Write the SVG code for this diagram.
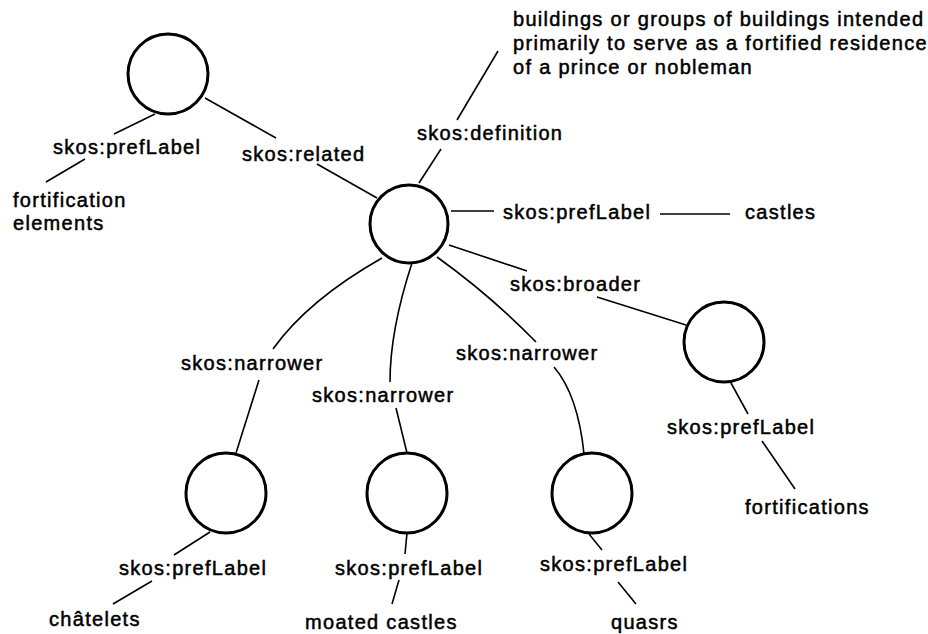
<svg xmlns="http://www.w3.org/2000/svg" width="928" height="634" viewBox="0 0 928 634">
<style>
.n{fill:none;stroke:#000;stroke-width:3}
.e{fill:none;stroke:#000;stroke-width:1.6}
text{font-family:"Liberation Sans",Arial,sans-serif;font-size:20px;letter-spacing:1.3px;fill:#000;stroke:#000;stroke-width:0.5}
</style>
<rect width="928" height="634" fill="#fff"/>
<g id="connectors">
<path class="e" d="M155,114 L114,134"/>
<path class="e" d="M85,159 L46,182"/>
<path class="e" d="M205,98 L276,138"/>
<path class="e" d="M317,164 L377,198"/>
<path class="e" d="M419,183 L441,149"/>
<path class="e" d="M457,120 L498,51"/>
<path class="e" d="M451,211 L494,211"/>
<path class="e" d="M660,214 L730,214"/>
<path class="e" d="M449,245 L527,271"/>
<path class="e" d="M597,297 L686,325"/>
<path class="e" d="M731,383 L748,414"/>
<path class="e" d="M762,441 L795,489"/>
<path class="e" d="M382,258 Q308,300 273,349"/>
<path class="e" d="M259,380 L236,453"/>
<path class="e" d="M210,532 L174,555"/>
<path class="e" d="M152,581 L113,604"/>
<path class="e" d="M412,263 Q390,330 390,382"/>
<path class="e" d="M396,408 L407,453"/>
<path class="e" d="M407,533 L405,554"/>
<path class="e" d="M399,580 L392,604"/>
<path class="e" d="M437,257 Q490,295 536,342"/>
<path class="e" d="M554,367 Q578,395 584,454"/>
<path class="e" d="M589,534 L602,550"/>
<path class="e" d="M618,582 L636,604"/>
</g>
<g id="node-related"><circle class="n" cx="168" cy="74" r="40"/></g>
<g id="node-castles"><circle class="n" cx="409" cy="224" r="39"/></g>
<g id="node-broader"><circle class="n" cx="724" cy="342" r="40"/></g>
<g id="node-chatelets"><circle class="n" cx="226" cy="493" r="40"/></g>
<g id="node-moated"><circle class="n" cx="407" cy="493" r="40"/></g>
<g id="node-quasrs"><circle class="n" cx="592" cy="493" r="40"/></g>
<g id="labels">
<text x="53" y="154">skos:prefLabel</text>
<text x="13" y="207">fortification</text>
<text x="13" y="230">elements</text>
<text x="242" y="161">skos:related</text>
<text x="417" y="140">skos:definition</text>
<text x="513" y="26">buildings or groups of buildings intended</text>
<text x="513" y="50">primarily to serve as a fortified residence</text>
<text x="513" y="74">of a prince or nobleman</text>
<text x="503" y="219">skos:prefLabel</text>
<text x="745" y="219">castles</text>
<text x="510" y="291">skos:broader</text>
<text x="667" y="434">skos:prefLabel</text>
<text x="745" y="514">fortifications</text>
<text x="181" y="370">skos:narrower</text>
<text x="312" y="402">skos:narrower</text>
<text x="456" y="360">skos:narrower</text>
<text x="119" y="575">skos:prefLabel</text>
<text x="49" y="626">châtelets</text>
<text x="335" y="575">skos:prefLabel</text>
<text x="305" y="629">moated castles</text>
<text x="540" y="571">skos:prefLabel</text>
<text x="611" y="629">quasrs</text>
</g>
</svg>
